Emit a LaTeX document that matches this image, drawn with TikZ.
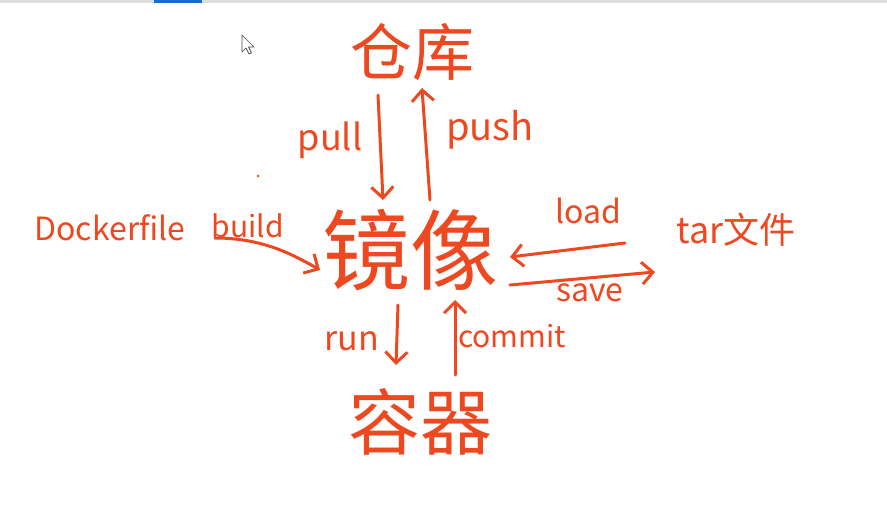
\documentclass[tikz,border=0pt]{standalone}
\usepackage{fontspec}
\setmainfont{Noto Sans CJK SC}
\usetikzlibrary{arrows.meta}
\definecolor{ink}{RGB}{238,72,32}
\definecolor{barblue}{RGB}{20,110,210}
\definecolor{bargray}{RGB}{222,222,222}
\tikzset{
  hw/.style={text=ink, inner sep=0pt, anchor=center},
  arr/.style={draw=ink, line width=3pt, line cap=round, line join=round,
    -{Straight Barb[length=11pt,width=22pt,line width=3pt]}}
}
\begin{document}
\begin{tikzpicture}[x=1pt,y=-1pt]
\useasboundingbox (0,0) rectangle (887,514);
\fill[white] (0,0) rectangle (887,514);
% top bar
\fill[bargray] (0,0) rectangle (887,3);
\fill[barblue] (154,0) rectangle (202,2.5);
% cursor
\draw[black!70, fill=white, line width=0.7pt, line join=round]
  (242,35) -- (242,52) -- (246,48) -- (249,54) -- (251.5,53) -- (248.5,47) -- (254,47) -- cycle;
% dot
\fill[ink] (258,176) circle (1.4);
% main nodes
\node[hw, font=\fontsize{62}{62}\selectfont] (repo) at (412,52) {仓库};
\node[hw, font=\fontsize{88}{88}\selectfont] (img) at (410,250) {镜像};
\node[hw, font=\fontsize{72}{72}\selectfont] (cont) at (420,422) {容器};
\node[hw, font=\fontsize{32}{32}\selectfont] (dock) at (110,228) {Dockerfile};
\node[hw, font=\fontsize{36}{36}\selectfont] (tar) at (736,230) {tar文件};
% labels
\node[hw, font=\fontsize{36}{36}\selectfont] (lpull) at (330,140) {pull};
\node[hw, font=\fontsize{38}{38}\selectfont] (lpush) at (490,130) {push};
\node[hw, font=\fontsize{30}{30}\selectfont] (lbuild) at (248,226) {build};
\node[hw, font=\fontsize{32}{32}\selectfont] (lload) at (588,211) {load};
\node[hw, font=\fontsize{32}{32}\selectfont] (lsave) at (590,293) {save};
\node[hw, font=\fontsize{34}{34}\selectfont] (lrun) at (352,341) {run};
\node[hw, font=\fontsize{30}{30}\selectfont] (lcommit) at (512,336) {commit};
% connectors
\draw[arr] ([shift={(-34,43)}]repo.center) -- ([shift={(-27,-50)}]img.center);
\draw[arr] ([shift={(20,-50)}]img.center) -- ([shift={(10,36)}]repo.center);
\draw[arr] ([shift={(105,10)}]dock.center) .. controls (262,238) and (292,254) .. ([shift={(-90,20)}]img.center);
\draw[arr] ([shift={(-111,13)}]tar.center) -- ([shift={(100,7)}]img.center);
\draw[arr] ([shift={(100,35)}]img.center) -- ([shift={(-81,42)}]tar.center);
\draw[arr] ([shift={(-12,55)}]img.center) -- ([shift={(-24,-57)}]cont.center);
\draw[arr] ([shift={(35,-47)}]cont.center) -- ([shift={(45,50)}]img.center);
\end{tikzpicture}
\end{document}
